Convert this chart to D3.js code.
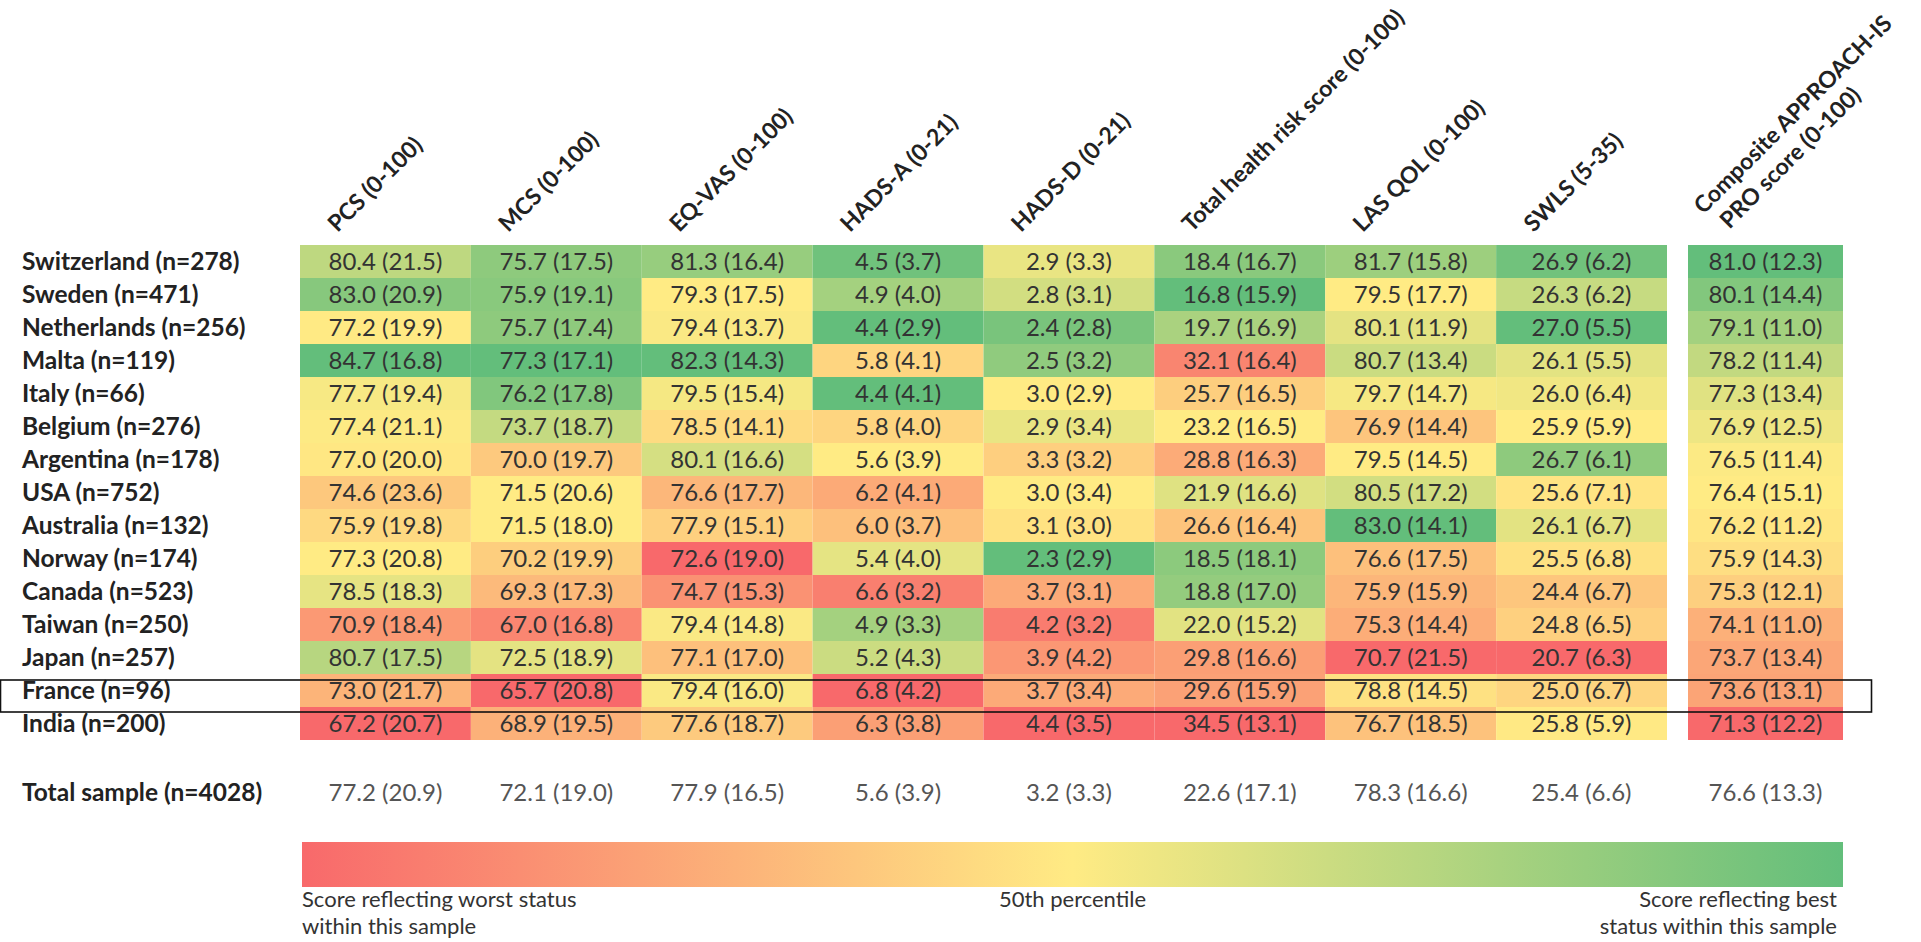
<!DOCTYPE html>
<html><head><meta charset="utf-8">
<script src="https://cdn.jsdelivr.net/npm/d3@7"></script>
<style>body{margin:0;background:#fff;} svg{display:block;}</style>
</head><body>
<script>
// ---------- data ----------
const countries = ["Switzerland (n=278)","Sweden (n=471)","Netherlands (n=256)","Malta (n=119)","Italy (n=66)","Belgium (n=276)","Argentina (n=178)","USA (n=752)","Australia (n=132)","Norway (n=174)","Canada (n=523)","Taiwan (n=250)","Japan (n=257)","France (n=96)","India (n=200)"];
const totalLabel = "Total sample (n=4028)";
const highlighted = "France (n=96)";

const measures = ["PCS (0-100)","MCS (0-100)","EQ-VAS (0-100)","HADS-A (0-21)","HADS-D (0-21)","Total health risk score (0-100)","LAS QOL (0-100)","SWLS (5-35)"];
const compositeLines = ["Composite APPROACH-IS","PRO score (0-100)"];
const compositeKey = "Composite";
// true when a higher score reflects a worse status
const higherIsWorse = [false,false,false,true,true,true,false,false];

const pcsMean  = [80.4,83.0,77.2,84.7,77.7,77.4,77.0,74.6,75.9,77.3,78.5,70.9,80.7,73.0,67.2];
const pcsSD    = [21.5,20.9,19.9,16.8,19.4,21.1,20.0,23.6,19.8,20.8,18.3,18.4,17.5,21.7,20.7];
const mcsMean  = [75.7,75.9,75.7,77.3,76.2,73.7,70.0,71.5,71.5,70.2,69.3,67.0,72.5,65.7,68.9];
const mcsSD    = [17.5,19.1,17.4,17.1,17.8,18.7,19.7,20.6,18.0,19.9,17.3,16.8,18.9,20.8,19.5];
const eqvasMean= [81.3,79.3,79.4,82.3,79.5,78.5,80.1,76.6,77.9,72.6,74.7,79.4,77.1,79.4,77.6];
const eqvasSD  = [16.4,17.5,13.7,14.3,15.4,14.1,16.6,17.7,15.1,19.0,15.3,14.8,17.0,16.0,18.7];
const hadsAMean= [4.5,4.9,4.4,5.8,4.4,5.8,5.6,6.2,6.0,5.4,6.6,4.9,5.2,6.8,6.3];
const hadsASD  = [3.7,4.0,2.9,4.1,4.1,4.0,3.9,4.1,3.7,4.0,3.2,3.3,4.3,4.2,3.8];
const hadsDMean= [2.9,2.8,2.4,2.5,3.0,2.9,3.3,3.0,3.1,2.3,3.7,4.2,3.9,3.7,4.4];
const hadsDSD  = [3.3,3.1,2.8,3.2,2.9,3.4,3.2,3.4,3.0,2.9,3.1,3.2,4.2,3.4,3.5];
const riskMean = [18.4,16.8,19.7,32.1,25.7,23.2,28.8,21.9,26.6,18.5,18.8,22.0,29.8,29.6,34.5];
const riskSD   = [16.7,15.9,16.9,16.4,16.5,16.5,16.3,16.6,16.4,18.1,17.0,15.2,16.6,15.9,13.1];
const lasMean  = [81.7,79.5,80.1,80.7,79.7,76.9,79.5,80.5,83.0,76.6,75.9,75.3,70.7,78.8,76.7];
const lasSD    = [15.8,17.7,11.9,13.4,14.7,14.4,14.5,17.2,14.1,17.5,15.9,14.4,21.5,14.5,18.5];
const swlsMean = [26.9,26.3,27.0,26.1,26.0,25.9,26.7,25.6,26.1,25.5,24.4,24.8,20.7,25.0,25.8];
const swlsSD   = [6.2,6.2,5.5,5.5,6.4,5.9,6.1,7.1,6.7,6.8,6.7,6.5,6.3,6.7,5.9];
const compMean = [81.0,80.1,79.1,78.2,77.3,76.9,76.5,76.4,76.2,75.9,75.3,74.1,73.7,73.6,71.3];
const compSD   = [12.3,14.4,11.0,11.4,13.4,12.5,11.4,15.1,11.2,14.3,12.1,11.0,13.4,13.1,12.2];

const totalMean = [77.2,72.1,77.9,5.6,3.2,22.6,78.3,25.4,76.6];
const totalSD   = [20.9,19.0,16.5,3.9,3.3,17.1,16.6,6.6,13.3];

const legendLeft  = ["Score reflecting worst status","within this sample"];
const legendMid   = "50th percentile";
const legendRight = ["Score reflecting best","status within this sample"];

// ---------- layout ----------
const W = 1921, H = 942;
const colorWorst = "#F8696B", colorMid = "#FFEB84", colorBest = "#63BE7B";
const font = "Lato, 'Open Sans', sans-serif";

const svg = d3.select("body").append("svg").attr("width", W).attr("height", H)
  .style("font-family", font);

const allMeans = [pcsMean,mcsMean,eqvasMean,hadsAMean,hadsDMean,riskMean,lasMean,swlsMean,compMean];
const allSDs   = [pcsSD,mcsSD,eqvasSD,hadsASD,hadsDSD,riskSD,lasSD,swlsSD,compSD];
const colKeys = measures.concat([compositeKey]);
const worseFlags = higherIsWorse.concat([false]);

const xMain = d3.scaleBand().domain(measures).range([300, 1667]).padding(0);
const xComp = d3.scaleBand().domain([compositeKey]).range([1688, 1843]).padding(0);
const xOf = k => k === compositeKey ? xComp(k) : xMain(k);
const bwOf = k => k === compositeKey ? xComp.bandwidth() : xMain.bandwidth();

const y = d3.scaleBand().domain(countries).range([245, 740]).padding(0);
const totalY = 792;

const fmt = d3.format(".1f");
const cellFont = 24, labelFont = 24.5, headFont = 23, legendFont = 22;

// cells
colKeys.forEach((key, ci) => {
  const vals = allMeans[ci];
  const sorted = vals.slice().sort(d3.ascending);
  const dom = [d3.min(vals), d3.median(sorted), d3.max(vals)];
  const range = worseFlags[ci] ? [colorBest, colorMid, colorWorst] : [colorWorst, colorMid, colorBest];
  const color = d3.scaleLinear().domain(dom).range(range).interpolate(d3.interpolateRgb).clamp(true);
  const g = svg.append("g");
  g.selectAll("rect").data(countries).join("rect")
    .attr("x", xOf(key)).attr("y", d => y(d))
    .attr("width", bwOf(key)).attr("height", y.bandwidth())
    .attr("fill", (d, i) => color(vals[i]));
  g.selectAll("text").data(countries).join("text")
    .attr("x", xOf(key) + bwOf(key) / 2)
    .attr("y", d => y(d) + y.bandwidth() / 2)
    .attr("dy", "0.36em")
    .attr("text-anchor", "middle")
    .attr("font-size", cellFont)
    .attr("fill", "#333")
    .text((d, i) => `${fmt(vals[i])} (${fmt(allSDs[ci][i])})`);
  // total sample
  svg.append("text")
    .attr("x", xOf(key) + bwOf(key) / 2).attr("y", totalY)
    .attr("dy", "0.36em").attr("text-anchor", "middle")
    .attr("font-size", cellFont).attr("fill", "#555")
    .text(`${fmt(totalMean[ci])} (${fmt(totalSD[ci])})`);
});

// row labels
svg.append("g").selectAll("text").data(countries).join("text")
  .attr("x", 22).attr("y", d => y(d) + y.bandwidth() / 2).attr("dy", "0.36em")
  .attr("font-size", labelFont).attr("font-weight", 700).attr("fill", "#222")
  .text(d => d);
svg.append("text").attr("x", 22).attr("y", totalY).attr("dy", "0.36em")
  .attr("font-size", labelFont).attr("font-weight", 700).attr("fill", "#222").text(totalLabel);

// column headers (rotated)
const headAngle = -45, headY = 233;
measures.forEach(m => {
  const cx = xMain(m) + xMain.bandwidth() / 2;
  svg.append("text")
    .attr("transform", `translate(${cx - 48},${headY}) rotate(${headAngle})`)
    .attr("font-size", headFont).attr("font-weight", 700).attr("fill", "#222")
    .text(m);
});
{
  const cx = xComp(compositeKey) + xComp.bandwidth() / 2;
  const t = svg.append("text")
    .attr("transform", `translate(${cx - 62},${headY - 18}) rotate(${headAngle})`)
    .attr("font-size", headFont).attr("font-weight", 700).attr("fill", "#222");
  compositeLines.forEach((l, i) => {
    t.append("tspan").attr("x", i ? 8 : 0).attr("dy", i ? "1.25em" : 0).text(l);
  });
}

// highlight box around France
svg.append("rect")
  .attr("x", 0.5).attr("y", y(highlighted) + 6)
  .attr("width", 1871).attr("height", y.bandwidth() - 1)
  .attr("fill", "none").attr("stroke", "#111").attr("stroke-width", 1.6);

// legend color bar
const defs = svg.append("defs");
const grad = defs.append("linearGradient").attr("id", "lg");
[[0, colorWorst], [0.5, colorMid], [1, colorBest]].forEach(([o, c]) =>
  grad.append("stop").attr("offset", o).attr("stop-color", c));
const lx = d3.scaleLinear().domain([0, 1]).range([302, 1843]);
svg.append("rect").attr("x", lx(0)).attr("y", 842).attr("width", lx(1) - lx(0)).attr("height", 45)
  .attr("fill", "url(#lg)");
legendLeft.forEach((t, i) => svg.append("text").attr("x", lx(0)).attr("y", 907 + i * 27)
  .attr("font-size", legendFont).attr("fill", "#333").text(t));
svg.append("text").attr("x", lx(0.5)).attr("y", 907).attr("text-anchor", "middle")
  .attr("font-size", legendFont).attr("fill", "#333").text(legendMid);
legendRight.forEach((t, i) => svg.append("text").attr("x", lx(1) - 6).attr("y", 907 + i * 27)
  .attr("text-anchor", "end").attr("font-size", legendFont).attr("fill", "#333").text(t));
</script>
</body></html>
